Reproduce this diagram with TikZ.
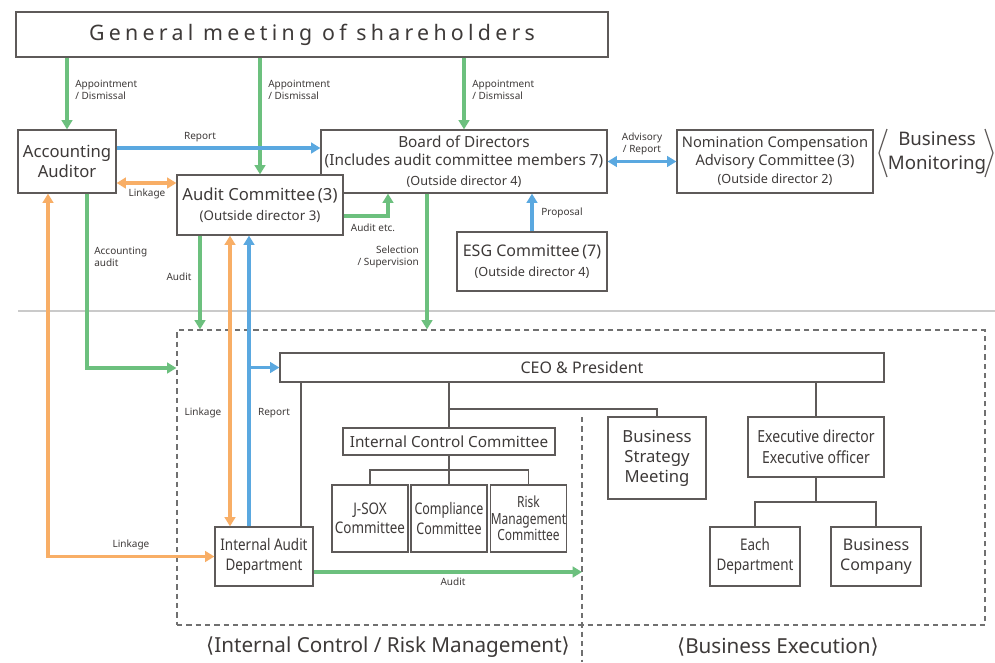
\documentclass[tikz,border=0pt]{standalone}
\usepackage{fontspec}
\usepackage{graphicx}
\setmainfont{Noto Sans}
\newfontfamily\condfont{Noto Sans}[FakeStretch=0.84]
\newfontfamily\ccondfont{Noto Sans}[FakeStretch=0.78]
\newfontfamily\dejavu{DejaVu Sans}
\usetikzlibrary{arrows.meta,calc}
\definecolor{cg}{HTML}{6CC07E}
\definecolor{co}{HTML}{F8AE66}
\definecolor{cb}{HTML}{5AA8E0}
\definecolor{txt}{HTML}{3E3A39}
\definecolor{bord}{HTML}{5E5A59}
\definecolor{sepc}{HTML}{CACACA}
\definecolor{dashc}{HTML}{707070}
\newcommand\bx[7][]{\node[box,#1,minimum width={(#4-#2)*0.75pt},minimum height={(#5-#3)*0.75pt}] (#6) at ({(#2+#4)/2},{(#3+#5)/2}) {#7};}
\tikzset{
  box/.style={draw=bord, line width=0.9pt, fill=white, inner sep=0pt, align=center, text=txt},
  garr/.style={draw=cg, line width=2.5pt, -{Triangle[length=7pt,width=8pt]}},
  barr/.style={draw=cb, line width=2.5pt, -{Triangle[length=7pt,width=8pt]}},
  barrb/.style={draw=cb, line width=2.5pt, {Triangle[length=7pt,width=8pt]}-{Triangle[length=7pt,width=8pt]}},
  oarrb/.style={draw=co, line width=2.5pt, {Triangle[length=7pt,width=8pt]}-{Triangle[length=7pt,width=8pt]}},
  tree/.style={draw=bord, line width=1pt},
  lbl/.style={font=\fontsize{7.5}{9}\selectfont, inner sep=0pt, text=txt},
  dashline/.style={draw=dashc, line width=0.9pt, dash pattern=on 4pt off 3pt},
}
\begin{document}
\begin{tikzpicture}[x=0.75pt,y=-0.75pt]
\useasboundingbox (0,0) rectangle (995,662);
\fill[white] (0,0) rectangle (995,662);

% separator
\draw[sepc, line width=1.6pt] (18,311) -- (995,311);

% dashed area
\bx[draw=dashc, dash pattern=on 4pt off 3pt, fill=none]{177}{330}{985}{625}{area}{}
\draw[dashline] (582,417) -- (582,662);

% boxes
\bx[font=\fontsize{16}{18}\selectfont\addfontfeature{LetterSpace=20}]{16}{12}{608}{57}{gms}{General meeting of shareholders}
\bx[font=\fontsize{12.5}{15.5}\selectfont]{18}{130}{116}{193}{aa}{Accounting\\Auditor}
\bx[font=\fontsize{11.5}{13.5}\selectfont]{321}{130}{607}{193}{bd}{Board of Directors\\(Includes audit committee members 7)\\[1pt]\fontsize{9.5}{12}\selectfont (Outside director 4)}
\bx[font=\fontsize{12.5}{15}\selectfont]{177}{175}{343}{235}{ac}{Audit Committee\,(3)\\\fontsize{10}{12}\selectfont (Outside director 3)}
\bx[font=\fontsize{11}{13.5}\selectfont]{677}{130}{873}{193}{nc}{Nomination Compensation\\Advisory Committee\,(3)\\\fontsize{9.5}{12}\selectfont (Outside director 2)}
\bx[font=\fontsize{12}{15}\selectfont]{457}{232}{607}{291}{esg}{ESG Committee\,(7)\\\fontsize{9.5}{12}\selectfont (Outside director 4)}
\bx[font=\fontsize{12}{14}\selectfont]{280}{353}{884}{382}{ceo}{CEO \& President}
\bx[font=\fontsize{11.5}{13}\selectfont]{343}{428}{555}{455}{icc}{Internal Control Committee}
\bx[font=\condfont\fontsize{12}{14.5}\selectfont]{332}{485}{408}{552}{jsox}{J-SOX\\Committee}
\bx[font=\ccondfont\fontsize{12}{14.5}\selectfont]{411}{485}{487}{552}{comp}{Compliance\\Committee}
\bx[font=\ccondfont\fontsize{11.5}{12.5}\selectfont]{491}{485}{566}{552}{risk}{Risk\\Management\\Committee}
\bx[font=\fontsize{12.5}{15}\selectfont]{608}{417}{706}{499}{bsm}{Business\\Strategy\\Meeting}
\bx[font=\condfont\fontsize{12.5}{15.5}\selectfont]{748}{417}{884}{477}{ed}{Executive director\\Executive officer}
\bx[font=\condfont\fontsize{12}{15}\selectfont]{710}{527}{800}{586}{dept}{Each\\Department}
\bx[font=\fontsize{12}{15}\selectfont]{831}{527}{921}{586}{bc}{Business\\Company}
\bx[font=\condfont\fontsize{12}{15}\selectfont]{215}{527}{313}{586}{ia}{Internal Audit\\Department}

% Business Monitoring
\node[text=txt, align=center, inner sep=0pt, font=\fontsize{14}{18.5}\selectfont] (bm) at (937,153) {Business\\Monitoring};
\draw[bord, line width=0.9pt] (887,129) -- (879,153) -- (887,177);
\draw[bord, line width=0.9pt] (985,129) -- (993,153) -- (985,177);

% bottom labels
\node[text=txt, inner sep=0pt, font=\fontsize{15.5}{18}\selectfont] (lblic) at (388,647) {{\dejavu ⟨}Internal Control / Risk Management{\dejavu ⟩}};
\node[text=txt, inner sep=0pt, font=\fontsize{15.5}{18}\selectfont] (lblbe) at (778,647) {{\dejavu ⟨}Business Execution{\dejavu ⟩}};

% coordinates
\coordinate (r1) at (0,148);
\coordinate (r2) at (0,183);
\coordinate (r3) at (388,216);
\coordinate (r4) at (427,0);
\coordinate (r5) at (87,368);
\coordinate (r6) at (200,0);
\coordinate (r7) at (230,0);
\coordinate (r8) at (249,0);
\coordinate (r9) at (48,0);
\coordinate (r10) at (582,572);
\coordinate (t1) at (301,0);
\coordinate (t2) at (0,409);
\coordinate (t3) at (0,470);
\coordinate (t4) at (0,502);

% org tree
\draw[tree] (ceo.south -| t1) -- (ia.north -| t1);
\draw[tree] (ceo.south -| icc.north) -- (icc.north);
\draw[tree] (t2 -| icc.north) -- (t2 -| bsm.north) -- (bsm.north);
\draw[tree] (icc.south) -- (icc.south |- t3);
\draw[tree] (jsox.north) -- (jsox.north |- t3) -- (risk.north |- t3) -- (risk.north);
\draw[tree] (comp.north |- t3) -- (comp.north);
\draw[tree] (ceo.south -| ed.north) -- (ed.north);
\draw[tree] (ed.south) -- (ed.south |- t4);
\draw[tree] (dept.north) -- (dept.north |- t4) -- (bc.north |- t4) -- (bc.north);

% arrows
\draw[garr] (gms.south -| aa.north) -- (aa.north);
\draw[garr] (gms.south -| ac.north) -- (ac.north);
\draw[garr] (gms.south -| bd.north) -- (bd.north);
\draw[barr] (aa.east |- r1) -- (bd.west |- r1);
\draw[oarrb] (aa.east |- r2) -- (ac.west |- r2);
\draw[garr] (ac.east |- r3) -- (r3) -- (r3 |- bd.south);
\draw[garr] (bd.south -| r4) -- (area.north -| r4);
\draw[barr] (esg.north) -- (esg.north |- bd.south);
\draw[barrb] (bd.east) -- (nc.west);
\draw[garr] (aa.south -| r5) -- (r5) -- (r5 -| area.west);
\draw[garr] (ac.south -| r6) -- (area.north -| r6);
\draw[oarrb] (ac.south -| r7) -- (ia.north -| r7);
\draw[barr] (ia.north -| r8) -- (ac.south -| r8);
\draw[barr] (ceo.west -| r8) -- (ceo.west);
\draw[oarrb] (aa.south -| r9) -- (r9 |- ia.west) -- (ia.west);
\draw[garr] (ia.east |- r10) -- (r10);

% labels
\node[lbl, anchor=west, align=left] (l1) at (75,90) {Appointment\\/ Dismissal};
\node[lbl, anchor=west, align=left] (l2) at (268,90) {Appointment\\/ Dismissal};
\node[lbl, anchor=west, align=left] (l3) at (472,90) {Appointment\\/ Dismissal};
\node[lbl] (l4) at (200,137) {Report};
\node[lbl] (l5) at (147,194) {Linkage};
\node[lbl] (l6) at (373,228) {Audit etc.};
\node[lbl, anchor=east, align=right] (l7) at (419,257) {Selection\\/ Supervision};
\node[lbl] (l8) at (562,213) {Proposal};
\node[lbl, align=center] (l9) at (642,144) {Advisory\\/ Report};
\node[lbl, anchor=west, align=left] (l10) at (94,257) {Accounting\\audit};
\node[lbl] (l11) at (179,277) {Audit};
\node[lbl] (l12) at (203,413) {Linkage};
\node[lbl] (l13) at (274,413) {Report};
\node[lbl] (l14) at (131,545) {Linkage};
\node[lbl] (l15) at (453,582) {Audit};
\end{tikzpicture}
\end{document}
